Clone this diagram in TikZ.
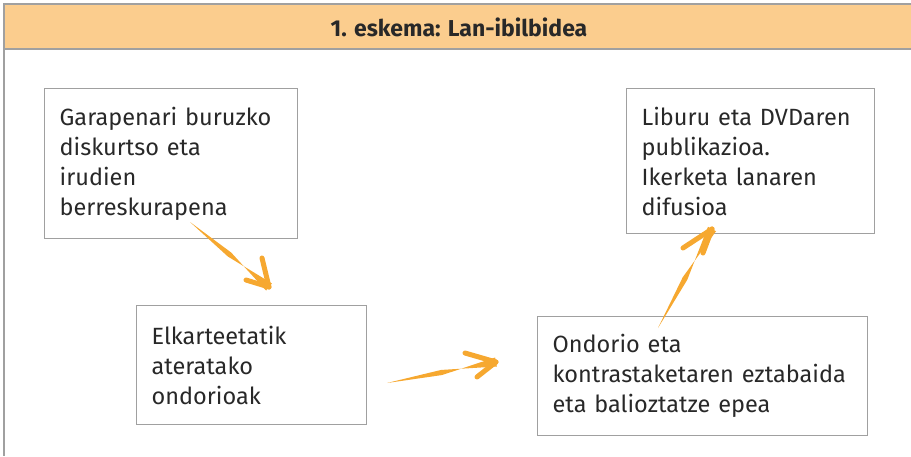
\documentclass[tikz,border=0pt]{standalone}
\usepackage{fontspec}
\setmainfont{Fira Sans}
\usetikzlibrary{calc}
\definecolor{hdr}{RGB}{251,205,142}
\definecolor{frm}{RGB}{160,160,160}
\definecolor{txt}{RGB}{40,40,40}
\definecolor{brush}{RGB}{246,168,48}
\tikzset{brusharm/.style={draw=brush,line width=5pt,line cap=round}}
\newcommand\brusharrow[4]{%
  % #1 tail, #2 tip, #3 arm start 1, #4 arm start 2
  \fill[brush] (#1) -- ($(#1)!0.5!(#2)!2.6pt!90:(#2)$) -- ($(#2)!4.6pt!90:(#1)$) -- ($(#2)!4.6pt!-90:(#1)$) -- ($(#1)!0.5!(#2)!2.6pt!-90:(#2)$) -- cycle;
  \draw[brusharm] (#3) -- (#2);
  \draw[brusharm] (#4) -- (#2);
}
\begin{document}
\begin{tikzpicture}[x=1pt,y=-1pt,
  box/.style={draw=frm,line width=1.3pt,anchor=north west,align=left,
    inner xsep=15pt,inner ysep=0pt,text=txt,
    font=\fontsize{23.5}{30}\selectfont},
]
\useasboundingbox (0,0) rectangle (911,456);
% header and frame
\fill[hdr] (4,4) rectangle (911,49);
\draw[frm,line width=1.3pt] (911,4) -- (4,4) -- (4,456);
\draw[frm,line width=1.3pt] (4,49) -- (911,49);
\node[font=\bfseries\fontsize{23}{26}\selectfont,text=txt] (title) at (459,27) {1. eskema: Lan-ibilbidea};
% boxes
\node[box,text width=223pt,minimum height=150pt] (b1) at (44,88)
  {Garapenari buruzko\\diskurtso eta\\irudien\\berreskurapena};
\node[box,text width=200pt,minimum height=119pt] (b2) at (136,305)
  {Elkarteetatik\\ateratako\\ondorioak};
\node[box,text width=300pt,minimum height=119pt] (b3) at (537,316)
  {Ondorio eta\\kontrastaketaren eztabaida\\eta balioztatze epea};
\node[box,text width=218pt,minimum height=145pt] (b4) at (626,88)
  {Liburu eta DVDaren\\publikazioa.\\Ikerketa lanaren\\difusioa};
% arrows
\coordinate (a1t) at (190,222);
\coordinate (a1h) at (269,287);
\coordinate (a1u) at (262,258);
\coordinate (a1l) at (246,280);
\brusharrow{a1t}{a1h}{a1u}{a1l}
\coordinate (a2t) at (387,383);
\coordinate (a2h) at (496,362);
\coordinate (a2u) at (465,353);
\coordinate (a2l) at (477,377);
\brusharrow{a2t}{a2h}{a2u}{a2l}
\coordinate (a3t) at (658,328);
\coordinate (a3h) at (712,229);
\coordinate (a3u) at (683,248);
\coordinate (a3l) at (703,253);
\brusharrow{a3t}{a3h}{a3u}{a3l}
\end{tikzpicture}
\end{document}
